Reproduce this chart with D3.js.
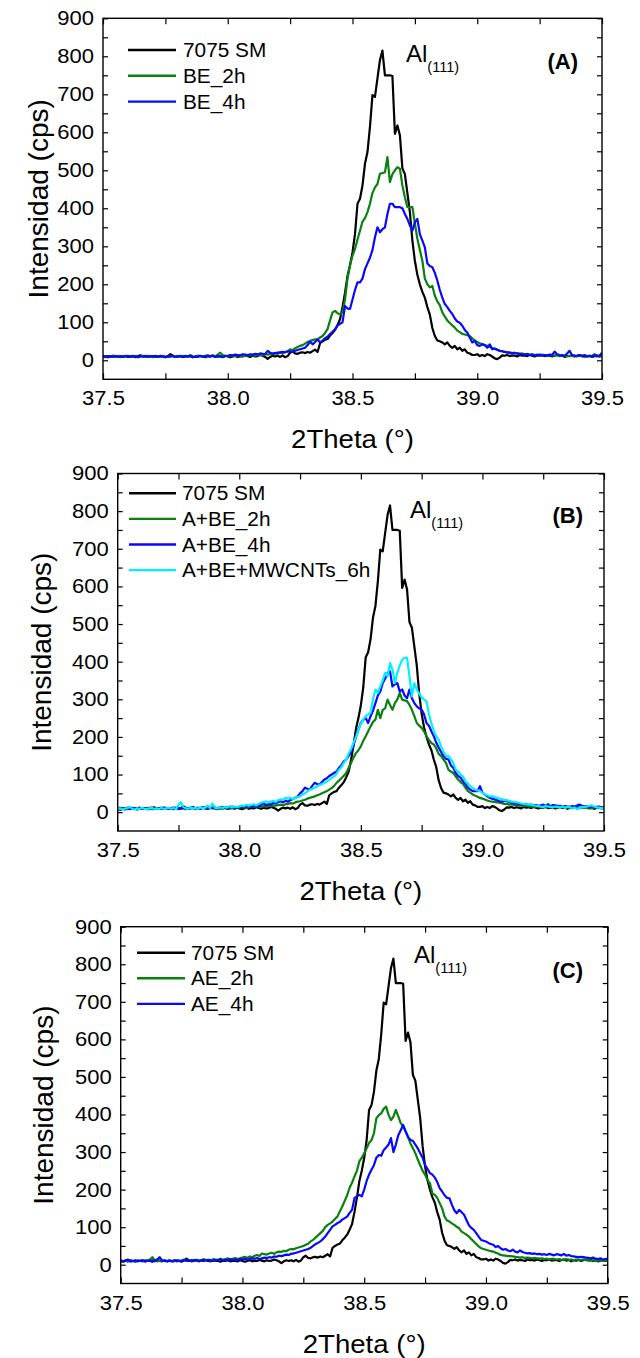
<!DOCTYPE html>
<html lang="en">
<head>
<meta charset="utf-8">
<title>Al(111) XRD peak</title>
<script src="https://cdn.jsdelivr.net/npm/d3@7"></script>
<style>
  html, body { margin: 0; padding: 0; background: #fff; }
  svg { display: block; }
</style>
</head>
<body>
<div id="chart"></div>
<script>
// 2Theta scan grid, step 0.01 deg
var twoTheta = d3.range(201).map(function(i) { return +(37.5 + i * 0.01).toFixed(2); });

// intensities (cps), one value per grid step
var sm7075 = [
  10, 8, 11, 9, 12, 10, 9, 11, 10, 12,
  9, 11, 10, 8, 11, 13, 10, 9, 12, 10,
  11, 9, 10, 12, 10, 8, 11, 16, 12, 9,
  10, 12, 9, 11, 10, 13, 10, 9, 12, 11,
  10, 8, 11, 10, 12, 9, 10, 11, 9, 12,
  10, 8, 10, 12, 9, 11, 10, 13, 11, 9,
  12, 10, 11, 14, 12, 9, 4, 9, 12, 10,
  12, 9, 13, 8, 11, 20, 24, 18, 17, 20,
  21, 19, 22, 20, 24, 28, 22, 45, 50, 54,
  56, 65, 72, 80, 93, 108, 140, 178, 222, 250,
  284, 332, 412, 425, 460, 517, 548, 614, 698, 693,
  742, 790, 815, 750, 750, 750, 748, 596, 618, 592,
  505, 490, 440, 390, 315, 262, 225, 200, 180, 165,
  140, 120, 85, 64, 52, 50, 47, 42, 47, 38,
  33, 38, 29, 33, 25, 29, 20, 18, 14, 14,
  16, 11, 14, 11, 16, 14, 10, 5, 3, 7,
  13, 12, 14, 11, 13, 12, 10, 14, 12, 13,
  11, 14, 12, 10, 13, 12, 14, 11, 12, 13,
  10, 12, 14, 11, 13, 9, 12, 11, 13, 10,
  12, 14, 11, 13, 10, 12, 9, 11, 13, 10, 12
];

var be2h = [
  9, 11, 8, 10, 12, 9, 10, 8, 11, 10,
  12, 9, 10, 11, 8, 10, 12, 9, 11, 10,
  8, 10, 11, 9, 12, 10, 8, 11, 10, 9,
  11, 10, 12, 9, 10, 11, 8, 10, 12, 11,
  9, 12, 10, 11, 13, 10, 15, 20, 14, 12,
  11, 13, 12, 10, 14, 12, 11, 13, 12, 14,
  13, 12, 15, 14, 13, 16, 15, 17, 16, 18,
  17, 20, 19, 22, 24, 29, 27, 32, 35, 38,
  40, 44, 48, 51, 53, 55, 55, 60, 64, 72,
  82, 105, 126, 130, 124, 121, 126, 160, 215, 250,
  275, 293, 318, 341, 365, 374, 390, 412, 440, 455,
  464, 491, 493, 495, 535, 469, 490, 500, 508, 504,
  460, 429, 403, 403, 403, 360, 320, 290, 262, 215,
  200, 192, 196, 170, 155, 145, 126, 115, 105, 98,
  92, 86, 78, 74, 70, 68, 66, 64, 58, 52,
  48, 45, 43, 40, 38, 35, 32, 30, 28, 25,
  24, 22, 21, 20, 19, 20, 18, 17, 18, 16,
  17, 15, 16, 14, 15, 13, 15, 14, 12, 14,
  13, 12, 14, 11, 13, 12, 10, 12, 11, 13,
  10, 12, 11, 9, 12, 10, 11, 16, 12, 10, 11
];

var be4h = [
  12, 10, 8, 11, 9, 12, 10, 11, 9, 10,
  11, 9, 12, 10, 8, 11, 10, 12, 9, 11,
  10, 12, 9, 11, 10, 8, 11, 10, 12, 9,
  11, 10, 9, 12, 10, 11, 8, 10, 9, 12,
  10, 11, 13, 10, 12, 9, 11, 10, 8, 11,
  12, 14, 13, 15, 14, 13, 16, 15, 14, 16,
  15, 17, 16, 18, 17, 16, 25, 20, 18, 19,
  20, 21, 22, 21, 23, 24, 22, 25, 27, 29,
  31, 33, 40, 49, 42, 48, 55, 47, 52, 58,
  62, 69, 75, 82, 91, 96, 100, 143, 136, 135,
  160, 185, 205, 205, 215, 240, 255, 270, 290, 324,
  350, 337, 345, 350, 385, 412, 412, 403, 403, 403,
  400, 385, 372, 355, 341, 363, 372, 332, 315, 297,
  255, 248, 245, 230, 210, 185, 165, 148, 140, 130,
  122, 110, 102, 99, 91, 80, 73, 60, 47, 51,
  40, 38, 42, 40, 33, 42, 29, 31, 28, 25,
  24, 22, 21, 20, 19, 18, 18, 17, 16, 15,
  16, 14, 15, 13, 14, 15, 12, 14, 13, 15,
  14, 23, 16, 14, 13, 12, 18, 25, 14, 11,
  12, 14, 11, 13, 10, 12, 11, 13, 10, 12, 20
];

var abe2h = [
  10, 12, 9, 11, 8, 10, 12, 9, 11, 10,
  9, 11, 10, 12, 9, 8, 10, 11, 9, 12,
  10, 9, 11, 10, 12, 9, 11, 10, 8, 11,
  12, 10, 9, 11, 10, 12, 9, 11, 10, 12,
  11, 10, 12, 9, 11, 13, 10, 12, 11, 13,
  12, 14, 13, 11, 14, 15, 13, 16, 14, 15,
  16, 15, 17, 16, 18, 17, 19, 20, 18, 21,
  22, 24, 23, 26, 28, 29, 31, 33, 36, 38,
  40, 42, 45, 47, 50, 53, 56, 60, 64, 70,
  78, 84, 90, 97, 104, 118, 131, 145, 157, 165,
  175, 190, 202, 215, 228, 240, 246, 272, 250, 272,
  276, 299, 285, 272, 290, 300, 317, 299, 297, 295,
  285, 272, 255, 237, 230, 224, 215, 202, 192, 184,
  180, 170, 155, 149, 140, 131, 113, 108, 104, 95,
  87, 80, 75, 65, 56, 52, 47, 44, 41, 38,
  36, 34, 31, 29, 28, 27, 26, 25, 24, 22,
  22, 20, 21, 19, 18, 18, 17, 16, 17, 15,
  16, 14, 15, 16, 14, 13, 15, 22, 14, 13,
  15, 12, 14, 13, 11, 14, 12, 13, 11, 14,
  12, 13, 11, 14, 12, 10, 13, 11, 12, 13, 12
];

var abe4h = [
  8, 6, 9, 7, 10, 8, 11, 9, 7, 10,
  9, 11, 8, 10, 12, 9, 11, 10, 8, 12,
  10, 9, 11, 8, 10, 12, 9, 11, 10, 9,
  11, 14, 10, 12, 9, 11, 13, 10, 12, 11,
  13, 10, 12, 14, 11, 13, 12, 15, 13, 12,
  14, 16, 13, 15, 17, 14, 16, 18, 15, 20,
  24, 18, 22, 20, 25, 23, 27, 29, 26, 30,
  28, 32, 35, 38, 42, 50, 56, 65, 62, 60,
  70, 78, 75, 73, 80, 87, 90, 96, 100, 104,
  108, 118, 125, 135, 140, 150, 160, 178, 200, 220,
  237, 245, 250, 237, 255, 270, 290, 310, 321, 343,
  355, 370, 374, 334, 340, 343, 321, 326, 310, 303,
  326, 303, 290, 281, 276, 272, 260, 237, 230, 215,
  202, 185, 172, 160, 149, 142, 140, 125, 118, 104,
  96, 92, 82, 75, 65, 60, 56, 56, 56, 69,
  52, 47, 42, 38, 36, 34, 32, 29, 28, 30,
  30, 27, 25, 24, 22, 22, 21, 20, 22, 19,
  20, 18, 19, 17, 18, 20, 17, 18, 16, 19,
  18, 16, 17, 15, 16, 15, 14, 16, 15, 18,
  20, 17, 15, 16, 14, 15, 13, 14, 15, 13, 12
];

var mwcnt6h = [
  8, 10, 7, 9, 11, 14, 9, 7, 10, 8,
  12, 9, 8, 10, 11, 9, 10, 8, 11, 9,
  10, 12, 9, 11, 8, 20, 26, 14, 10, 9,
  12, 10, 11, 9, 13, 10, 12, 18, 11, 23,
  12, 10, 13, 11, 14, 12, 16, 13, 15, 14,
  15, 18, 16, 20, 17, 19, 21, 18, 22, 25,
  27, 29, 26, 28, 30, 27, 32, 34, 33, 38,
  36, 38, 35, 38, 40, 42, 47, 50, 55, 60,
  62, 65, 69, 72, 75, 78, 82, 86, 91, 95,
  102, 113, 120, 131, 140, 157, 168, 184, 200, 219,
  235, 246, 255, 260, 264, 300, 326, 317, 334, 350,
  370, 361, 396, 379, 343, 370, 390, 405, 410, 410,
  360, 308, 343, 326, 315, 305, 299, 295, 260, 237,
  215, 202, 193, 175, 160, 149, 149, 140, 131, 113,
  108, 100, 95, 82, 76, 69, 64, 60, 58, 56,
  52, 47, 45, 42, 42, 40, 38, 36, 35, 32,
  32, 30, 28, 27, 26, 25, 23, 22, 21, 20,
  20, 18, 17, 16, 15, 14, 16, 15, 14, 13,
  15, 14, 13, 15, 12, 14, 13, 11, 12, 8,
  12, 14, 13, 15, 17, 18, 15, 13, 12, 11, 10
];

var ae2h = [
  10, 8, 11, 9, 12, 10, 8, 11, 10, 9,
  12, 10, 14, 20, 12, 9, 11, 10, 12, 9,
  11, 10, 9, 12, 10, 11, 13, 10, 12, 11,
  13, 11, 12, 10, 14, 12, 13, 11, 15, 13,
  14, 16, 13, 15, 17, 14, 16, 18, 15, 17,
  19, 21, 18, 22, 20, 24, 26, 23, 30, 28,
  27, 30, 32, 29, 33, 35, 34, 37, 36, 40,
  42, 41, 44, 46, 48, 50, 53, 56, 62, 66,
  72, 78, 84, 90, 100, 106, 110, 115, 122, 128,
  142, 155, 170, 185, 205, 218, 235, 250, 275, 285,
  297, 310, 324, 332, 350, 390, 398, 403, 415, 421,
  399, 385, 394, 412, 395, 377, 368, 355, 340, 323,
  310, 297, 280, 265, 250, 240, 225, 217, 190, 186,
  178, 164, 150, 128, 118, 115, 110, 106, 101, 97,
  88, 84, 80, 75, 68, 62, 55, 49, 44, 42,
  40, 38, 36, 35, 32, 30, 26, 25, 24, 23,
  23, 22, 21, 20, 19, 20, 18, 19, 18, 17,
  18, 17, 16, 17, 15, 16, 14, 16, 15, 14,
  15, 13, 14, 15, 13, 14, 12, 14, 13, 12,
  14, 12, 13, 11, 12, 10, 11, 12, 10, 11, 12
];

var ae4h = [
  12, 9, 11, 14, 8, 10, 12, 9, 11, 10,
  9, 11, 10, 12, 9, 14, 20, 11, 10, 9,
  11, 10, 12, 9, 11, 10, 13, 11, 10, 12,
  11, 13, 10, 12, 14, 11, 13, 12, 10, 13,
  12, 14, 11, 13, 12, 15, 13, 14, 12, 15,
  14, 16, 13, 15, 17, 16, 18, 15, 17, 19,
  18, 20, 19, 22, 21, 24, 23, 25, 27, 26,
  29, 30, 32, 34, 36, 38, 40, 42, 45, 50,
  55, 58, 62, 68, 75, 84, 93, 102, 106, 111,
  114, 120, 124, 128, 138, 146, 177, 182, 186, 182,
  200, 223, 240, 253, 265, 285, 292, 290, 305, 312,
  320, 337, 300, 320, 345, 358, 372, 355, 340, 332,
  330, 320, 310, 297, 285, 265, 255, 244, 240, 232,
  220, 204, 195, 185, 178, 177, 160, 145, 137, 146,
  140, 133, 119, 105, 98, 93, 84, 75, 66, 64,
  62, 58, 55, 53, 47, 50, 44, 40, 42, 38,
  36, 40, 35, 33, 38, 34, 32, 30, 31, 29,
  30, 28, 29, 27, 28, 26, 29, 27, 25, 28,
  27, 25, 29, 24, 26, 23, 22, 21, 20, 21,
  20, 19, 18, 17, 19, 16, 15, 17, 14, 15, 16
];

var xTicks = [37.5, 37.75, 38.0, 38.25, 38.5, 38.75, 39.0, 39.25, 39.5];
var yTicks = [0, 50, 100, 150, 200, 250, 300, 350, 400, 450, 500, 550, 600, 650, 700, 750, 800, 850, 900];

var FONT = "'Liberation Sans', Arial, Helvetica, sans-serif";
var W = 640, H = 1358;

var panels = [
  {
    tag: '(A)',
    frame: { left: 103, top: 18.3, right: 602, bottom: 379.3 },
    yTitleX: 38,
    legend: { x1: 128, x2: 176, tx: 183, y0: 50, dy: 25.8 },
    al: { x: 406, y: 62 },
    tagPos: { x: 578, y: 69 },
    series: [
      { name: '7075 SM', values: sm7075, color: '#000000' },
      { name: 'BE_2h', values: be2h, color: '#0a800f' },
      { name: 'BE_4h', values: be4h, color: '#0808ff' }
    ]
  },
  {
    tag: '(B)',
    frame: { left: 117.7, top: 473.5, right: 604, bottom: 831 },
    yTitleX: 41,
    legend: { x1: 129, x2: 176, tx: 182, y0: 493.3, dy: 25.6 },
    al: { x: 410, y: 518 },
    tagPos: { x: 583, y: 523 },
    series: [
      { name: '7075 SM', values: sm7075, color: '#000000' },
      { name: 'A+BE_2h', values: abe2h, color: '#0a800f' },
      { name: 'A+BE_4h', values: abe4h, color: '#0808ff' },
      { name: 'A+BE+MWCNTs_6h', values: mwcnt6h, color: '#00f0ff' }
    ]
  },
  {
    tag: '(C)',
    frame: { left: 120.7, top: 926.7, right: 607.7, bottom: 1283.5 },
    yTitleX: 43,
    legend: { x1: 137, x2: 185, tx: 191, y0: 952.7, dy: 25.6 },
    al: { x: 414, y: 963 },
    tagPos: { x: 583, y: 978 },
    series: [
      { name: '7075 SM', values: sm7075, color: '#000000' },
      { name: 'AE_2h', values: ae2h, color: '#0a800f' },
      { name: 'AE_4h', values: ae4h, color: '#0808ff' }
    ]
  }
];

// widen glyphs a little, the original figure is stretched sideways
function stretch(sel, k) {
  sel.each(function() {
    var w = this.getComputedTextLength();
    d3.select(this).attr('textLength', w * k).attr('lengthAdjust', 'spacingAndGlyphs');
  });
}

var svg = d3.select('#chart').append('svg')
  .attr('width', W)
  .attr('height', H)
  .style('font-family', FONT);

svg.append('rect').attr('width', W).attr('height', H).attr('fill', '#fff');

panels.forEach(function(p, pi) {
  var f = p.frame;
  var x = d3.scaleLinear().domain([37.5, 39.5]).range([f.left, f.right]);
  var y = d3.scaleLinear().domain([-50, 900]).range([f.bottom, f.top]);

  var g = svg.append('g');

  var clipId = 'clip' + pi;
  g.append('clipPath').attr('id', clipId)
    .append('rect')
    .attr('x', f.left).attr('y', f.top)
    .attr('width', f.right - f.left).attr('height', f.bottom - f.top);

  // ticks on all four sides, pointing in
  var bottom = g.append('g')
    .attr('transform', 'translate(0,' + f.bottom + ')')
    .call(d3.axisBottom(x).tickValues(xTicks).tickSize(-6).tickPadding(12)
      .tickFormat(function(d) { return Math.abs(d * 2 - Math.round(d * 2)) < 1e-6 ? d3.format('.1f')(d) : ''; }));
  var top = g.append('g')
    .attr('transform', 'translate(0,' + f.top + ')')
    .call(d3.axisTop(x).tickValues(xTicks).tickSize(-6).tickFormat(''));
  var left = g.append('g')
    .attr('transform', 'translate(' + f.left + ',0)')
    .call(d3.axisLeft(y).tickValues(yTicks).tickSize(-5).tickPadding(9)
      .tickFormat(function(d) { return d % 100 === 0 ? d : ''; }));
  var right = g.append('g')
    .attr('transform', 'translate(' + f.right + ',0)')
    .call(d3.axisRight(y).tickValues(yTicks).tickSize(-5).tickFormat(''));

  [bottom, top, left, right].forEach(function(a) {
    a.select('.domain').remove();
    a.selectAll('.tick line').attr('stroke', '#000').attr('stroke-width', 1.2);
    a.selectAll('text').attr('font-family', FONT).attr('font-size', 20).attr('fill', '#000');
  });
  stretch(bottom.selectAll('text').filter(function() { return this.textContent !== ''; }), 1.1);
  stretch(left.selectAll('text').filter(function() { return this.textContent !== ''; }), 1.1);

  // curves
  var line = d3.line()
    .x(function(d) { return x(d[0]); })
    .y(function(d) { return y(d[1]); });

  var curves = g.append('g').attr('clip-path', 'url(#' + clipId + ')');
  p.series.forEach(function(s) {
    curves.append('path')
      .datum(twoTheta.map(function(t, i) { return [t, s.values[i]]; }))
      .attr('d', line)
      .attr('fill', 'none')
      .attr('stroke', s.color)
      .attr('stroke-width', 2.2)
      .attr('stroke-linejoin', 'round');
  });

  // frame
  g.append('rect')
    .attr('x', f.left).attr('y', f.top)
    .attr('width', f.right - f.left).attr('height', f.bottom - f.top)
    .attr('fill', 'none').attr('stroke', '#000').attr('stroke-width', 1.4);

  // legend
  var lg = g.append('g');
  p.series.forEach(function(s, i) {
    var ly = p.legend.y0 + i * p.legend.dy;
    lg.append('line')
      .attr('x1', p.legend.x1).attr('x2', p.legend.x2)
      .attr('y1', ly).attr('y2', ly)
      .attr('stroke', s.color).attr('stroke-width', 2.4);
    lg.append('text')
      .attr('x', p.legend.tx).attr('y', ly + 7)
      .attr('font-size', 20)
      .text(s.name);
  });
  stretch(lg.selectAll('text'), 1.04);

  // peak label
  var al = g.append('text').attr('x', p.al.x).attr('y', p.al.y).attr('font-size', 24);
  al.append('tspan').text('Al');
  al.append('tspan').attr('font-size', 14.5).attr('dy', 10).text('(111)');

  g.append('text')
    .attr('x', p.tagPos.x).attr('y', p.tagPos.y)
    .attr('text-anchor', 'end')
    .attr('font-size', 22).attr('font-weight', 'bold')
    .text(p.tag);

  // axis titles
  var xt = g.append('text')
    .attr('x', (f.left + f.right) / 2).attr('y', f.bottom + 69)
    .attr('text-anchor', 'middle')
    .attr('font-size', 26)
    .text('2Theta (\u00B0)');
  stretch(xt, 1.06);

  g.append('text')
    .attr('transform', 'translate(' + (p.yTitleX + 10) + ',' + ((f.top + f.bottom) / 2) + ') rotate(-90)')
    .attr('text-anchor', 'middle')
    .attr('font-size', 28)
    .text('Intensidad (cps)');
});
</script>
</body>
</html>
